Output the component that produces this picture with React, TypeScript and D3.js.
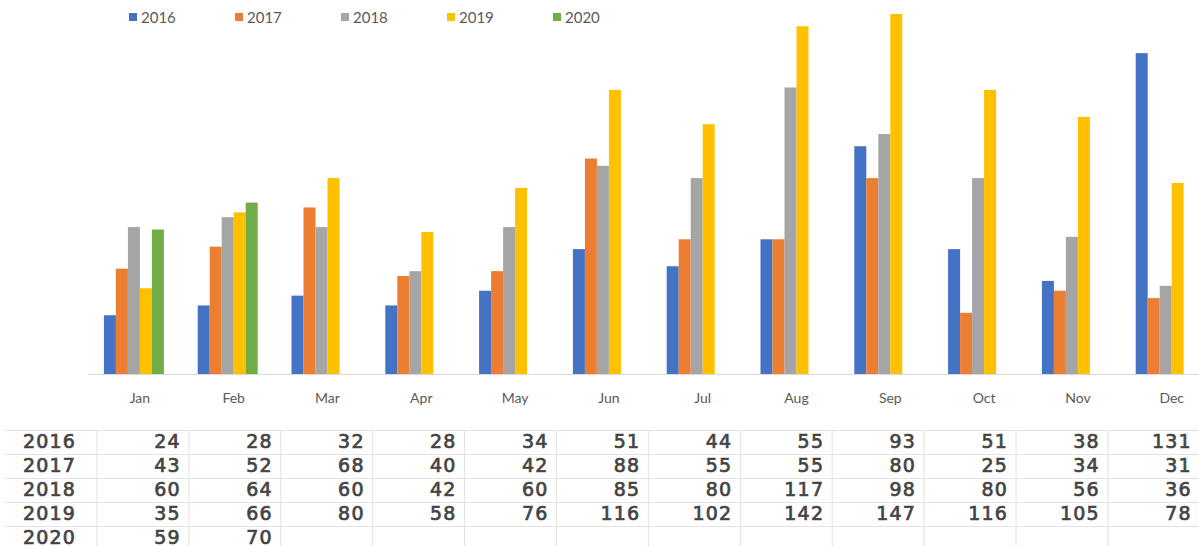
import * as d3 from 'd3';
import { useEffect, useRef } from 'react';

const months = ['Jan', 'Feb', 'Mar', 'Apr', 'May', 'Jun', 'Jul', 'Aug', 'Sep', 'Oct', 'Nov', 'Dec'];
const years = ['2016', '2017', '2018', '2019', '2020'];
const colors = ['#4472C4', '#ED7D31', '#A5A5A5', '#FFC000', '#70AD47'];

const v2016 = [24, 28, 32, 28, 34, 51, 44, 55, 93, 51, 38, 131];
const v2017 = [43, 52, 68, 40, 42, 88, 55, 55, 80, 25, 34, 31];
const v2018 = [60, 64, 60, 42, 60, 85, 80, 117, 98, 80, 56, 36];
const v2019 = [35, 66, 80, 58, 76, 116, 102, 142, 147, 116, 105, 78];
const v2020: (number | null)[] = [59, 70, null, null, null, null, null, null, null, null, null, null];

const series = [v2016, v2017, v2018, v2019, v2020];

const W = 1199;
const H = 546;

export default function App() {
  const ref = useRef<SVGSVGElement>(null);

  useEffect(() => {
    const svg = d3.select(ref.current);
    svg.selectAll('*').remove();

    svg.append('rect').attr('width', W).attr('height', H).attr('fill', '#fff');

    // scales
    const x = d3.scaleBand().domain(months).range([87, 87 + 12 * 93.8]);
    const xs = d3.scaleBand().domain(years).range([16.9, 76.9]);
    const y = d3.scaleLinear().domain([0, 147]).range([374, 14]);

    // axis line
    svg.append('line')
      .attr('x1', 88).attr('x2', W)
      .attr('y1', y(0) + 0.5).attr('y2', y(0) + 0.5)
      .attr('stroke', '#d9d9d9');

    // bars
    series.forEach((vals, si) => {
      svg.append('g')
        .selectAll('rect')
        .data(vals.map((v, i) => ({ m: months[i], v })).filter(d => d.v != null))
        .enter()
        .append('rect')
        .attr('x', d => (x(d.m) as number) + (xs(years[si]) as number))
        .attr('width', xs.bandwidth())
        .attr('y', d => y(d.v as number))
        .attr('height', d => y(0) - y(d.v as number))
        .attr('fill', colors[si]);
    });

    // month labels
    svg.append('g')
      .selectAll('text')
      .data(months)
      .enter()
      .append('text')
      .attr('x', d => (x(d) as number) + x.bandwidth() / 2 + 6)
      .attr('y', 403)
      .attr('text-anchor', 'middle')
      .attr('font-family', 'Lato, "Open Sans", sans-serif')
      .attr('font-size', 14)
      .attr('fill', '#595959')
      .text(d => d);

    // legend
    const lg = svg.append('g');
    years.forEach((yr, i) => {
      const lx = 129 + i * 106;
      lg.append('rect').attr('x', lx).attr('y', 13).attr('width', 8).attr('height', 8).attr('fill', colors[i]);
      lg.append('text')
        .attr('x', lx + 12).attr('y', 22.5)
        .attr('font-family', 'Lato, "Open Sans", sans-serif')
        .attr('font-size', 15)
        .attr('fill', '#595959')
        .text(yr);
    });

    // data table
    const colStep = 91.9;
    const col0 = 97;
    const rowTop = 430;
    const rowH = 24;
    const tg = svg.append('g');
    for (let r = 0; r <= years.length; r++) {
      tg.append('line')
        .attr('x1', 5).attr('x2', W)
        .attr('y1', rowTop + r * rowH + 0.5).attr('y2', rowTop + r * rowH + 0.5)
        .attr('stroke', '#e2e2e2');
    }
    for (let c = 0; c <= months.length; c++) {
      tg.append('line')
        .attr('x1', col0 + c * colStep).attr('x2', col0 + c * colStep)
        .attr('y1', rowTop).attr('y2', H)
        .attr('stroke', '#e2e2e2');
    }
    const font = '"DejaVu Sans", Verdana, sans-serif';
    const cell = (sel: d3.Selection<SVGTextElement, unknown, null, undefined>) =>
      sel
        .attr('font-family', font).attr('font-size', 19)
        .attr('letter-spacing', 1.2)
        .attr('fill', '#444')
        .attr('stroke', '#444').attr('stroke-width', 0.7);
    years.forEach((yr, r) => {
      const ty = rowTop + r * rowH + 17.5;
      tg.append('text')
        .attr('x', 23).attr('y', ty)
        .call(cell)
        .text(yr);
      series[r].forEach((v, c) => {
        if (v == null) return;
        tg.append('text')
          .attr('x', col0 + (c + 1) * colStep - 8).attr('y', ty)
          .attr('text-anchor', 'end')
          .call(cell)
          .text(String(v));
      });
    });
  }, []);

  return (
    <svg
      ref={ref}
      width={W}
      height={H}
      style={{ position: 'absolute', left: 0, top: 0 }}
    />
  );
}
